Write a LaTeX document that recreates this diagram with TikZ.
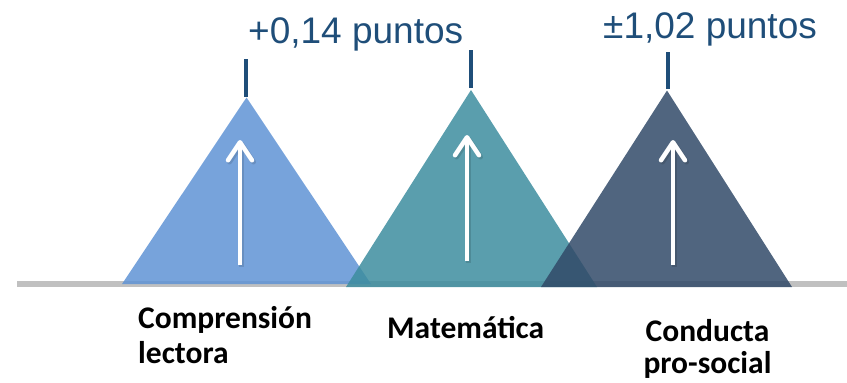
\documentclass[tikz,border=0pt]{standalone}
\usepackage{fontspec}
\setmainfont{Liberation Sans}
\newfontfamily\labelfont{Carlito}
\usetikzlibrary{arrows.meta}
\definecolor{triA}{HTML}{5F93D5}
\definecolor{triB}{HTML}{3D8D9F}
\definecolor{triC}{HTML}{314A68}
\definecolor{topblue}{HTML}{1F4E79}
\definecolor{basegray}{HTML}{C0C0C0}
\tikzset{
  tri/.style={fill opacity=0.85},
  tick/.style={draw=topblue, line width=4pt},
  uparrow/.style={draw=white, line width=4.5pt, -{Straight Barb[round, length=18pt, width=24pt]}},
  shadowarrow/.style={draw=black, opacity=0.12, line width=5pt, -{Straight Barb[round, length=18pt, width=24pt]}},
  toptext/.style={text=topblue, font=\fontsize{37}{40}\selectfont, inner sep=0pt, anchor=base west},
  lab/.style={font=\labelfont\bfseries\fontsize{31.5}{35}\selectfont, inner sep=0pt, text=black},
}
\begin{document}
\begin{tikzpicture}[x=1pt, y=-1pt]
\useasboundingbox (0,0) rectangle (847,383);
% baseline
\coordinate (bl) at (17,281);
\coordinate (br) at (847,287);
\fill[basegray] (bl) rectangle (br);
% triangle corners
\coordinate (a1) at (246.5,97.5); \coordinate (l1) at (122,284); \coordinate (r1) at (371,284);
\coordinate (a2) at (471,90);   \coordinate (l2) at (346,287); \coordinate (r2) at (597,287);
\coordinate (a3) at (667,90.5); \coordinate (l3) at (541,287); \coordinate (r3) at (792,287);
\fill[tri, triA] (a1) -- (l1) -- (r1) -- cycle;
\fill[tri, triB] (a2) -- (l2) -- (r2) -- cycle;
\fill[tri, triC] (a3) -- (l3) -- (r3) -- cycle;
% ticks
\coordinate (t1a) at (246,59); \coordinate (t1b) at (246,97);
\coordinate (t2a) at (471,50); \coordinate (t2b) at (471,88);
\coordinate (t3a) at (668,52); \coordinate (t3b) at (668,89);
\draw[tick] (t1a) -- (t1b);
\draw[tick] (t2a) -- (t2b);
\draw[tick] (t3a) -- (t3b);
% arrows
\coordinate (s1) at (240,265); \coordinate (e1) at (240,140);
\coordinate (s2) at (467,261); \coordinate (e2) at (467,135);
\coordinate (s3) at (673,265); \coordinate (e3) at (673,140);
\coordinate (ss1) at (241.5,266.5); \coordinate (se1) at (241.5,141.5);
\coordinate (ss2) at (468.5,262.5); \coordinate (se2) at (468.5,136.5);
\coordinate (ss3) at (674.5,266.5); \coordinate (se3) at (674.5,141.5);
\draw[shadowarrow] (ss1) -- (se1);
\draw[shadowarrow] (ss2) -- (se2);
\draw[shadowarrow] (ss3) -- (se3);
\draw[uparrow] (s1) -- (e1);
\draw[uparrow] (s2) -- (e2);
\draw[uparrow] (s3) -- (e3);
% top texts
\node[toptext] (v1) at (248,43.3) {+0,14 puntos};
\node[toptext] (v3) at (603,38.3) {±1,02 puntos};
% bottom labels
\node[lab, anchor=base west] (c1) at (138,328) {Comprensión};
\node[lab, anchor=base west] (c2) at (138,363) {lectora};
\node[lab, anchor=base west] (m1) at (387,338) {Matemática};
\node[lab, anchor=base] (p1) at (707.5,341) {Conducta};
\node[lab, anchor=base] (p2) at (707.5,373) {pro-social};
\end{tikzpicture}
\end{document}
